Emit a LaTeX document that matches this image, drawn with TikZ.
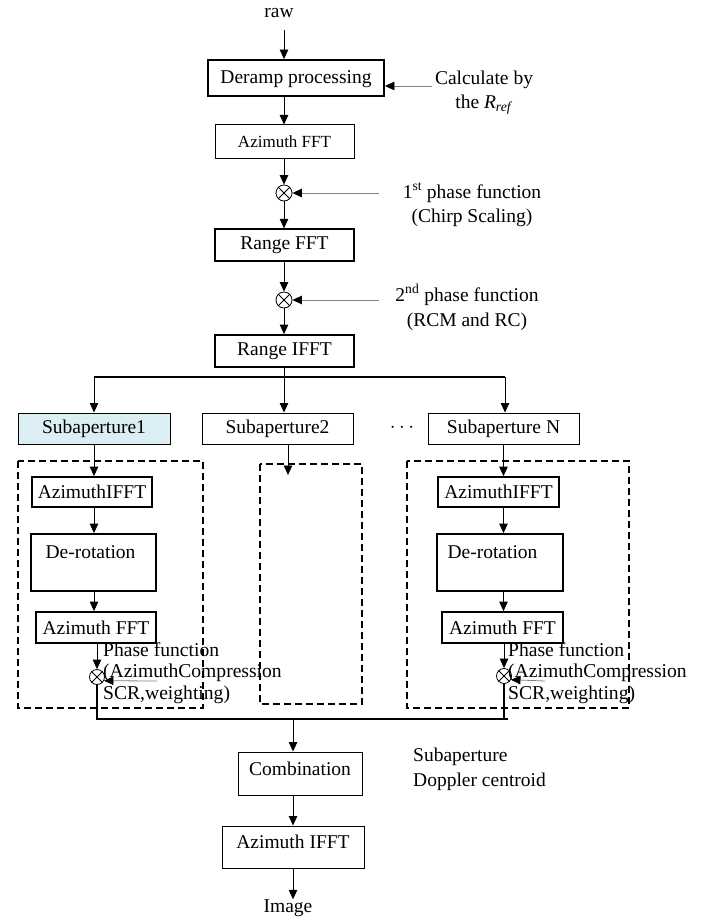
\documentclass[tikz,border=0pt]{standalone}
\usepackage{fontspec}
\setmainfont{Liberation Serif}
\usetikzlibrary{arrows.meta}
\definecolor{subblue}{HTML}{DAEEF3}
\tikzset{
  fnt/.style={font=\fontsize{19.5}{24}\selectfont},
  box/.style={draw, inner sep=0pt, fnt},
  thickbox/.style={box, line width=1.8pt},
  thinbox/.style={box, line width=1pt},
  subbox/.style={box, line width=1pt, font=\fontsize{19.5}{22}\selectfont, minimum width=151pt, minimum height=31pt},
  txt/.style={inner sep=0pt, fnt},
  phtxt/.style={txt, align=left, anchor=west, font=\fontsize{19.6}{21.5}\selectfont},
  arr/.style={line width=0.8pt, -{Triangle[length=9.5pt,width=8.5pt]}},
  sarr/.style={line width=0.8pt, draw=black!50, -{Triangle[length=9.5pt,width=8.5pt,black]}},
  otimes/.style={circle, draw, line width=0.8pt, minimum size=16pt, inner sep=0pt},
  bus/.style={line width=1.6pt},
  busb/.style={line width=1.2pt},
  dashbox/.style={line width=1.5pt, dash pattern=on 7pt off 4pt},
}
\begin{document}
\begin{tikzpicture}[x=1pt,y=-1pt]
\useasboundingbox (0,0) rectangle (706,917);
% top chain
\node[txt] (raw) at (279,13) {raw};
\coordinate (rawout) at (284,30);
\node[thickbox, minimum width=176pt, minimum height=36pt] (deramp) at (296,78) {};
\node[txt] (derampt) at (296,79) {Deramp processing};
\node[txt, align=center] (calc) at (484,93) {Calculate by\\the \textit{R}\textsubscript{\textit{ref}}};
\coordinate (calcin) at (432,86);
\node[thinbox, minimum width=139pt, minimum height=34pt, font=\fontsize{17}{20}\selectfont] (azfft) at (284.5,142) {Azimuth FFT};
\node[otimes] (o1) at (284,193) {};
\draw[line width=0.8pt] (o1.north west) -- (o1.south east) (o1.north east) -- (o1.south west);
\node[txt, align=center] (ph1) at (472,205) {1\textsuperscript{st} phase function\\(Chirp Scaling)};
\coordinate (ph1in) at (379,193);
\node[box, line width=1.3pt, minimum width=139pt, minimum height=32pt] (rfft) at (284.5,245) {Range FFT};
\node[otimes] (o2) at (284,300) {};
\draw[line width=0.8pt] (o2.north west) -- (o2.south east) (o2.north east) -- (o2.south west);
\node[txt, align=center, font=\fontsize{19.5}{25}\selectfont] (ph2) at (467,307.5) {2\textsuperscript{nd} phase function\\(RCM and RC)};
\coordinate (ph2in) at (379,300);
\node[thickbox, minimum width=139pt, minimum height=32pt] (rifft) at (284.5,351) {Range IFFT};

\draw[arr] (rawout) -- (rawout |- deramp.north);
\draw[sarr] (calcin) -- (deramp.east |- calcin);
\draw[arr] (o1 |- deramp.south) -- (o1 |- azfft.north);
\draw[arr] (o1 |- azfft.south) -- (o1.north);
\draw[sarr] (ph1in) -- (o1.east);
\draw[arr] (o1.south) -- (o1 |- rfft.north);
\draw[arr] (o2 |- rfft.south) -- (o2.north);
\draw[sarr] (ph2in) -- (o2.east);
\draw[arr] (o2.south) -- (o2 |- rifft.north);

% subapertures
\node[subbox, fill=subblue, minimum width=152pt] (sub1) at (94,428.5) {Subaperture1};
\node[subbox] (sub2) at (277.5,428.5) {Subaperture2};
\node[subbox] (subN) at (503.5,428.5) {Subaperture N};
\node[txt] (dots) at (402,428) {$\cdots$};
\coordinate (busL) at (94,377);
\coordinate (busR) at (505,377);
\draw[bus] (busL) -- (busR);
\draw[arr] (busL) -- (busL |- sub1.north);
\draw[arr] (busR) -- (busR |- subN.north);
\draw[arr] (o2 |- rifft.south) -- (o2 |- sub2.north);

% dashed groups
\draw[dashbox] (18,461) rectangle (203,708);
\draw[dashbox] (260,464) rectangle (362,704);
\draw[dashbox] (407,461) rectangle (629,708);

% chain 1
\node[thickbox, minimum width=120pt, minimum height=30pt] (aifft1) at (92,492) {AzimuthIFFT};
\node[thickbox, minimum width=125pt, minimum height=57pt] (der1) at (93.5,562.5) {};
\node[txt] (der1t) at (90.5,552) {De-rotation};
\node[thickbox, minimum width=120pt, minimum height=31pt] (afft1) at (96,627.5) {Azimuth FFT};
\node[otimes, minimum size=15pt] (o3) at (97,677) {};
\draw[line width=0.8pt] (o3.north west) -- (o3.south east) (o3.north east) -- (o3.south west);
\node[phtxt] (ph3) at (103,673) {Phase function\\(AzimuthCompression\\SCR,weighting)};
\coordinate (ph3in) at (157,681);
\draw[arr] (sub1.south) -- (sub1.south |- aifft1.north);
\draw[arr] (sub1 |- aifft1.south) -- (sub1 |- der1.north);
\draw[arr] (sub1 |- der1.south) -- (sub1 |- afft1.north);
\draw[arr] (o3 |- afft1.south) -- (o3.north);
\draw[sarr] (ph3in) -- (o3.-28);

% chain 2
\coordinate (s2out) at (288,444);
\coordinate (s2in) at (288,475);
\draw[arr] (s2out) -- (s2in);

% chain N
\node[thickbox, minimum width=121pt, minimum height=30pt] (aifftN) at (498.5,492) {AzimuthIFFT};
\node[thickbox, minimum width=126pt, minimum height=57pt] (derN) at (500,562.5) {};
\node[txt] (derNt) at (492.5,552) {De-rotation};
\node[thickbox, minimum width=121pt, minimum height=31pt] (afftN) at (502.5,627.5) {Azimuth FFT};
\node[otimes, minimum size=15pt] (o4) at (504,676) {};
\draw[line width=0.8pt] (o4.north west) -- (o4.south east) (o4.north east) -- (o4.south west);
\node[phtxt] (ph4) at (508,673) {Phase function\\(AzimuthCompression\\SCR,weighting)};
\coordinate (ph4in) at (545,681);
\draw[arr] (subN.south) -- (subN.south |- aifftN.north);
\draw[arr] (subN |- aifftN.south) -- (subN |- derN.north);
\draw[arr] (subN |- derN.south) -- (subN |- afftN.north);
\draw[arr] (o4 |- afftN.south) -- (o4.north);
\draw[sarr] (ph4in) -- (o4.-28);

% bottom
\coordinate (br) at (508,719);
\draw[busb] (o3.south) |- (br);
\draw[busb] (o4.south) -- (o4 |- br);
\node[thinbox, minimum width=124pt, minimum height=43pt] (comb) at (300,773.5) {};
\node[txt] (combt) at (300,769) {Combination};
\node[txt, align=left, anchor=west, font=\fontsize{19.5}{25}\selectfont] (dop) at (413,769.5) {Subaperture\\Doppler centroid};
\node[thinbox, minimum width=142pt, minimum height=42pt] (aifftB) at (293,847) {};
\node[txt] (aifftBt) at (293,842) {Azimuth IFFT};
\node[txt] (image) at (288,908) {Image};
\draw[arr] (aifftB.north |- br) -- (aifftB.north |- comb.north);
\draw[arr] (aifftB.north |- comb.south) -- (aifftB.north);
\draw[arr] (aifftB.south) -- (aifftB.south |- image.north);
\end{tikzpicture}
\end{document}
